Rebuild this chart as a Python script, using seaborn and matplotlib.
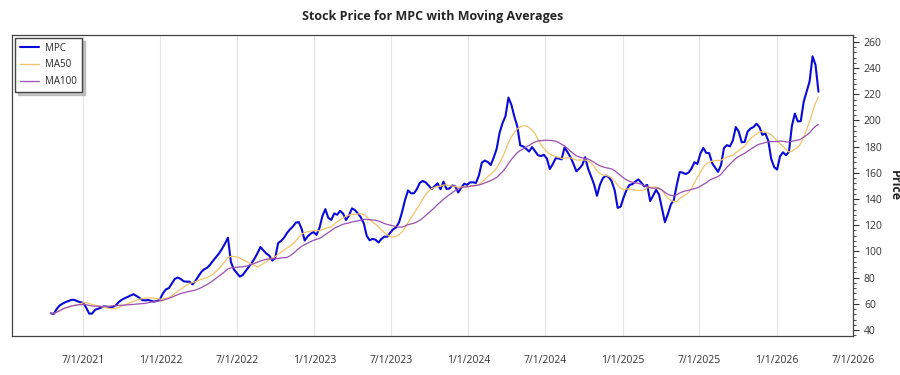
import pandas as pd
import matplotlib
matplotlib.use("Agg")
import matplotlib.pyplot as plt
import matplotlib.dates as mdates
from matplotlib.ticker import MultipleLocator, AutoMinorLocator, FuncFormatter
import seaborn as sns

# weekly closes (Fridays, Apr 2021 - Apr 2026)
start_date = "2021-04-16"
prices = [
    52.7, 52.2, 56.0, 58.7, 60.1, 61.3, 62.1, 63.0, 63.0, 62.0,
    61.2, 60.7, 57.0, 52.5, 52.5, 55.4, 56.2, 57.0, 58.0, 57.8,
    57.3, 57.6, 58.7, 61.3, 63.0, 64.2, 65.2, 66.3, 67.3, 66.0,
    64.6, 62.8, 62.6, 62.9, 62.2, 61.7, 62.2, 63.5, 68.0, 71.0,
    72.0, 75.5, 79.0, 80.0, 79.0, 77.2, 76.9, 76.9, 74.8, 77.5,
    81.0, 84.3, 86.4, 87.6, 90.0, 93.0, 95.7, 98.5, 102.0, 106.0,
    110.5, 92.0, 86.3, 83.5, 80.8, 82.0, 85.0, 88.0, 91.0, 94.5,
    98.6, 103.4, 100.8, 98.4, 96.8, 93.0, 95.0, 106.4, 108.0, 110.4,
    114.1, 116.8, 119.0, 122.0, 122.4, 117.0, 108.3, 111.5, 113.5, 114.8,
    112.6, 118.0, 127.0, 132.3, 125.6, 124.1, 129.0, 128.0, 131.0, 128.9,
    124.0, 127.5, 132.9, 131.6, 129.0, 126.1, 121.5, 112.0, 108.5, 109.6,
    108.9, 106.8, 109.6, 111.3, 111.3, 114.4, 117.0, 118.4, 122.5, 130.3,
    139.5, 146.6, 144.4, 144.4, 147.6, 152.5, 153.8, 152.7, 150.3, 147.6,
    149.8, 152.0, 147.5, 153.3, 147.8, 148.0, 150.4, 149.7, 145.0, 148.6,
    151.7, 150.9, 152.7, 152.8, 152.3, 158.0, 167.9, 169.4, 168.3, 166.0,
    171.6, 178.2, 190.6, 198.0, 203.3, 217.5, 212.0, 203.0, 195.6, 181.0,
    180.2, 178.4, 176.3, 179.7, 176.6, 173.5, 172.8, 173.8, 171.0, 163.0,
    166.6, 171.2, 171.0, 170.3, 179.4, 175.9, 172.1, 167.0, 161.2, 163.3,
    166.0, 172.0, 163.0, 157.3, 151.2, 142.5, 151.0, 156.0, 157.9, 156.7,
    153.4, 146.5, 133.2, 134.2, 141.2, 147.0, 150.8, 151.4, 153.4, 155.0,
    152.5, 149.7, 150.8, 138.5, 142.6, 147.0, 143.5, 132.7, 122.3, 128.5,
    135.8, 139.2, 150.6, 160.6, 160.2, 159.1, 160.2, 163.3, 168.1, 166.8,
    174.7, 179.0, 175.3, 175.0, 167.4, 164.0, 160.8, 166.0, 179.0, 181.2,
    180.2, 184.7, 195.0, 191.5, 183.4, 183.6, 191.5, 193.9, 195.0, 197.5,
    195.0, 189.0, 190.2, 184.6, 170.7, 164.4, 162.5, 172.7, 175.7, 173.5,
    176.1, 195.8, 205.3, 199.3, 199.5, 214.3, 222.0, 229.9, 249.0, 242.5,
    222.0,
]

df = pd.DataFrame({"Close": prices},
                  index=pd.date_range(start_date, periods=len(prices), freq="7D"))
# 50 / 100 trading days ~ 10 / 20 weeks
df["MA50"] = df["Close"].rolling(10, min_periods=1).mean()
df["MA100"] = df["Close"].rolling(20, min_periods=1).mean()

sns.set_style("white")
plt.rcParams["font.family"] = ["Open Sans", "DejaVu Sans"]

fig = plt.figure(figsize=(9, 3.75), dpi=100)
ax = fig.add_axes([0.0133, 0.104, 0.935, 0.803])

sns.lineplot(x=df.index, y=df["Close"], ax=ax, color="#0a0ad8", linewidth=1.5, label="MPC")
sns.lineplot(x=df.index, y=df["MA50"], ax=ax, color="#f2c266", linewidth=0.9, label="MA50")
sns.lineplot(x=df.index, y=df["MA100"], ax=ax, color="#9b4fb0", linewidth=0.9, label="MA100")

ax.set_title("Stock Price for MPC with Moving Averages", fontsize=9, fontweight="bold", pad=11)
ax.set_xlabel("")

ax.set_xlim(pd.Timestamp("2021-01-14"), pd.Timestamp("2026-07-02"))
ax.set_ylim(35.4, 265.4)

ax.xaxis.set_major_locator(mdates.MonthLocator(bymonth=[1, 7]))
ax.xaxis.set_major_formatter(FuncFormatter(
    lambda v, p: f"{mdates.num2date(v).month}/{mdates.num2date(v).day}/{mdates.num2date(v).year}"))
ax.tick_params(axis="x", direction="out", length=4, width=0.8, colors="#333333",
               labelsize=7.5, pad=10, labelcolor="#333333")
ax.grid(axis="x", color="#e4e4e4", linewidth=0.8)
ax.grid(axis="y", visible=False)

ax.yaxis.tick_right()
ax.yaxis.set_label_position("right")
ax.yaxis.set_major_locator(MultipleLocator(20))
ax.yaxis.set_minor_locator(AutoMinorLocator(5))
ax.tick_params(axis="y", which="major", direction="out", length=4, width=0.8,
               colors="#333333", labelsize=7.5, labelcolor="#333333", right=True, left=False)
ax.tick_params(axis="y", which="minor", direction="out", length=2, width=0.6,
               colors="#333333", right=True, left=False)
ax.set_ylabel("Price", fontsize=9, fontweight="bold", rotation=270, labelpad=14)

for s in ax.spines.values():
    s.set_visible(True)
    s.set_color("#444444")
    s.set_linewidth(0.9)

ax.legend(loc="upper left", fontsize=7, frameon=True, fancybox=False,
          shadow={"color": "#888888", "alpha": 0.45},
          edgecolor="#444444", borderpad=0.5, handlelength=2.0, labelspacing=0.6,
          handletextpad=0.6, borderaxespad=0.3, bbox_to_anchor=(0.0, 1.0))

fig.savefig("out.png", dpi=100)
